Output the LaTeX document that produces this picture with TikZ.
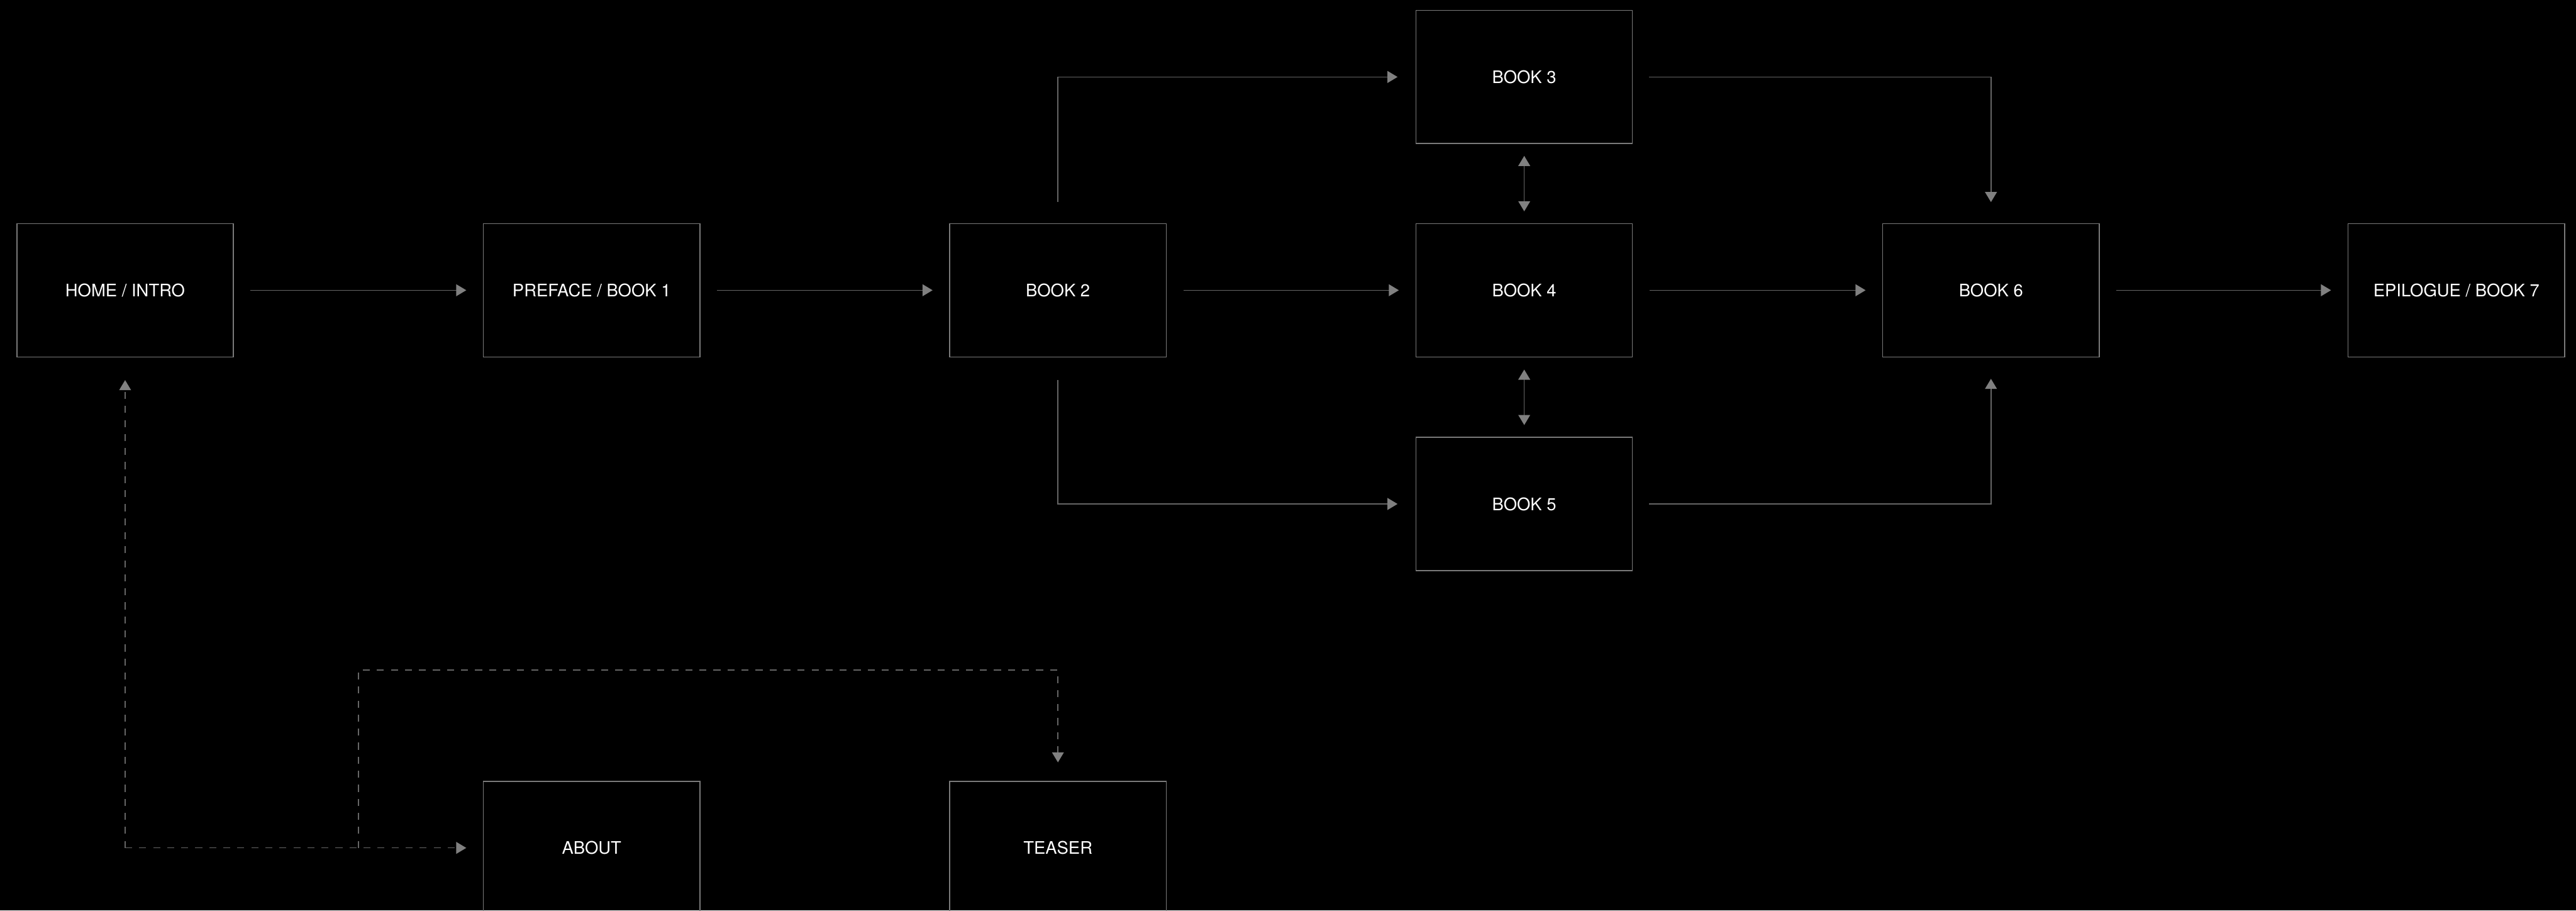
\documentclass[tikz,border=0pt]{standalone}
\usepackage{fontspec}
\setmainfont{TeX Gyre Heros}
\usetikzlibrary{arrows.meta}
\definecolor{boxgray}{HTML}{7A7A7A}
\definecolor{linegray}{HTML}{666666}
\definecolor{tipgray}{HTML}{808080}
\begin{document}
\begin{tikzpicture}[x=1cm,y=1cm,
  box/.style={draw=boxgray, line width=0.6pt, minimum width=4.94cm, minimum height=3.04cm, inner sep=0pt, text=white, font=\fontsize{11.2}{13}\selectfont},
  tipx/.tip={Triangle[length=0.23cm,width=0.27cm,fill=tipgray,color=tipgray]},
  conn/.style={draw=linegray, line width=0.6pt, -tipx},
  biconn/.style={draw=linegray, line width=0.6pt, tipx-tipx},
  dconn/.style={conn, dash pattern=on 0.16cm off 0.16cm}
]
\fill[black] (0,0) rectangle (58.78,-20.77);
\useasboundingbox (0,0) rectangle (58.78,-20.77);
\clip (0,0) rectangle (58.78,-20.77);

\node[box] (home) at (2.855,-6.62) {HOME / INTRO};
\node[box] (pref) at (13.50,-6.62) {PREFACE / BOOK 1};
\node[box] (b2) at (24.14,-6.62) {BOOK 2};
\node[box] (b3) at (34.78,-1.755) {BOOK 3};
\node[box] (b4) at (34.78,-6.62) {BOOK 4};
\node[box] (b5) at (34.78,-11.495) {BOOK 5};
\node[box] (b6) at (45.43,-6.62) {BOOK 6};
\node[box] (epi) at (56.05,-6.62) {EPILOGUE / BOOK 7};
\node[box] (about) at (13.50,-19.34) {ABOUT};
\node[box] (teaser) at (24.14,-19.34) {TEASER};

\draw[conn, shorten <=0.38cm, shorten >=0.38cm] (home) -- (pref);
\draw[conn, shorten <=0.38cm, shorten >=0.38cm] (pref) -- (b2);
\draw[conn, shorten <=0.38cm, shorten >=0.38cm] (b2) -- (b4);
\draw[conn, shorten <=0.38cm, shorten >=0.38cm] (b4) -- (b6);
\draw[conn, shorten <=0.38cm, shorten >=0.38cm] (b6) -- (epi);

\draw[biconn, shorten <=0.27cm, shorten >=0.27cm] (b3) -- (b4);
\draw[biconn, shorten <=0.28cm, shorten >=0.27cm] (b4) -- (b5);

\draw[conn, shorten <=0.49cm, shorten >=0.41cm] (b2.north) |- (b3.west);
\draw[conn, shorten <=0.52cm, shorten >=0.41cm] (b2.south) |- (b5.west);
\draw[conn, shorten <=0.37cm, shorten >=0.48cm] (b3.east) -| (b6.north);
\draw[conn, shorten <=0.37cm, shorten >=0.49cm] (b5.east) -| (b6.south);

\coordinate (c1) at (2.855,-19.34);
\coordinate (c2) at (8.18,-19.34);
\coordinate (c3) at (8.18,-15.28);
\draw[dconn, shorten >=0.52cm] (c1) -- (home.south);
\draw[dconn, shorten >=0.38cm] (c1) -- (about.west);
\draw[dconn, shorten >=0.42cm] (c2) -- (c3) -| (teaser.north);
\end{tikzpicture}
\end{document}
